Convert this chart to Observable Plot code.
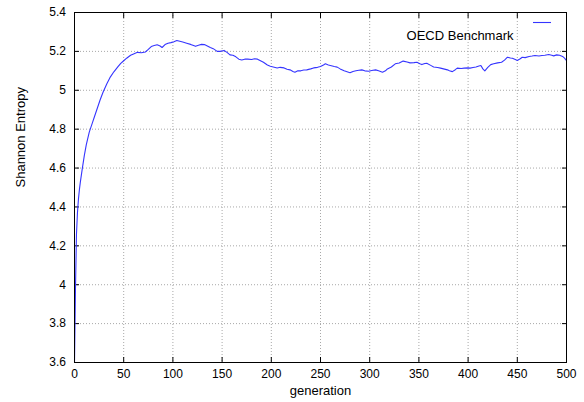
<!DOCTYPE html>
<html>
<head>
<meta charset="utf-8">
<script src="https://cdn.jsdelivr.net/npm/d3@7"></script>
<script src="https://cdn.jsdelivr.net/npm/@observablehq/plot@0.6"></script>
<style>
  body { margin: 0; background: #fff; }
  #chart { position: relative; width: 584px; height: 402px; }
</style>
</head>
<body>
<div id="chart"></div>
<script>
// Shannon entropy of the population per generation (OECD benchmark run)
const generation = [
  0, 1, 2, 3, 4, 5, 6, 8, 10, 12, 15, 18, 20, 23, 26, 29, 33, 36, 40, 44,
  47, 50, 53, 57, 60, 64, 68, 72, 75, 78, 81, 84, 87, 89, 92, 95, 98, 101, 104, 107,
  110, 114, 118, 121, 123, 126, 129, 132, 135, 138, 141, 145, 148, 152, 155, 158, 161, 164, 167, 170,
  173, 176, 180, 183, 186, 189, 192, 196, 199, 202, 206, 209, 213, 216, 219, 222, 224, 227, 230, 233,
  236, 240, 243, 247, 250, 253, 255, 258, 261, 264, 267, 270, 274, 277, 280, 283, 286, 289, 292, 295,
  299, 302, 306, 309, 313, 316, 318, 322, 326, 330, 334, 338, 341, 345, 348, 351, 353, 356, 358, 362,
  365, 369, 372, 375, 379, 381, 384, 387, 389, 393, 396, 400, 402, 405, 408, 411, 413, 415, 417, 420,
  423, 426, 430, 434, 437, 440, 443, 445, 448, 450, 453, 455, 458, 462, 465, 468, 472, 475, 478, 482,
  485, 487, 490, 493, 496, 498, 500
];
const entropy = [
  3.60, 3.98, 4.26, 4.37, 4.44, 4.49, 4.53, 4.60, 4.665, 4.72, 4.785, 4.83, 4.86, 4.905, 4.95, 4.99, 5.035, 5.065, 5.095, 5.12,
  5.138, 5.152, 5.165, 5.18, 5.187, 5.195, 5.193, 5.197, 5.21, 5.225, 5.23, 5.234, 5.228, 5.22, 5.235, 5.242, 5.245, 5.25, 5.256, 5.252,
  5.248, 5.242, 5.236, 5.23, 5.226, 5.232, 5.236, 5.235, 5.228, 5.22, 5.214, 5.2, 5.2, 5.205, 5.195, 5.182, 5.18, 5.172, 5.16, 5.156,
  5.16, 5.16, 5.158, 5.162, 5.16, 5.152, 5.144, 5.13, 5.124, 5.12, 5.115, 5.118, 5.115, 5.108, 5.105, 5.097, 5.093, 5.1, 5.1, 5.104,
  5.105, 5.11, 5.115, 5.118, 5.122, 5.13, 5.136, 5.13, 5.126, 5.122, 5.119, 5.11, 5.1, 5.095, 5.09, 5.097, 5.1, 5.103, 5.105, 5.1,
  5.098, 5.102, 5.105, 5.1, 5.093, 5.1, 5.11, 5.12, 5.136, 5.14, 5.15, 5.145, 5.141, 5.142, 5.144, 5.136, 5.132, 5.138, 5.139, 5.128,
  5.12, 5.117, 5.114, 5.11, 5.105, 5.1, 5.096, 5.106, 5.114, 5.112, 5.114, 5.115, 5.114, 5.117, 5.12, 5.125, 5.127, 5.11, 5.1, 5.118,
  5.132, 5.136, 5.141, 5.144, 5.155, 5.17, 5.166, 5.165, 5.158, 5.153, 5.162, 5.17, 5.168, 5.174, 5.176, 5.179, 5.176, 5.179, 5.18, 5.184,
  5.18, 5.177, 5.182, 5.18, 5.174, 5.165, 5.153
];
const xTicks = [0, 50, 100, 150, 200, 250, 300, 350, 400, 450, 500];
const yTicks = [3.6, 3.8, 4.0, 4.2, 4.4, 4.6, 4.8, 5.0, 5.2, 5.4];
const seriesName = "OECD Benchmark";
const xLabel = "generation";
const yLabel = "Shannon Entropy";

const data = generation.map((g, i) => ({generation: g, entropy: entropy[i]}));
const fmtY = d => String(+d.toFixed(1));
const font = "'Liberation Sans', Arial, Helvetica, sans-serif";
const lineColor = "#3535ff";
const gridStyle = {stroke: "#a8a8a8", strokeOpacity: 1, strokeWidth: 1, strokeDasharray: "1,2"};

const plot = Plot.plot({
  width: 584,
  height: 402,
  marginLeft: 74,
  marginRight: 18,
  marginTop: 12,
  marginBottom: 40,
  style: {fontFamily: font, fontSize: "12px", background: "#fff", color: "#000"},
  x: {domain: [0, 500]},
  y: {domain: [3.6, 5.4]},
  marks: [
    Plot.gridX(xTicks, gridStyle),
    Plot.gridY(yTicks, gridStyle),
    // inward ticks on all four sides, labels on bottom and left only
    Plot.axisX(xTicks, {anchor: "bottom", tickSize: -5, tickPadding: 12, label: null, fontSize: 12}),
    Plot.axisX(xTicks, {anchor: "top", tickSize: -5, tickFormat: () => "", label: null}),
    Plot.axisY(yTicks, {anchor: "left", tickSize: -5, tickPadding: 13.5, tickFormat: fmtY, label: null, fontSize: 12}),
    Plot.axisY(yTicks, {anchor: "right", tickSize: -5, tickFormat: () => "", label: null}),
    Plot.line(data, {x: "generation", y: "entropy", stroke: lineColor, strokeWidth: 1.1}),
    Plot.frame({stroke: "#000", strokeWidth: 1}),
    Plot.text([xLabel], {frameAnchor: "bottom", dy: 32.5, fontSize: 13}),
    Plot.text([yLabel], {frameAnchor: "left", dx: -54, rotate: -90, fontSize: 13}),
    Plot.text([seriesName], {frameAnchor: "top-right", dx: -53, dy: 18, textAnchor: "end", fontSize: 13})
  ]
});

// legend sample line next to the series name
const [, xRight] = plot.scale("x").range;
const yTop = Math.min(...plot.scale("y").range);
d3.select(plot).append("line")
  .attr("x1", xRight - 33).attr("x2", xRight - 15)
  .attr("y1", yTop + 10.5).attr("y2", yTop + 10.5)
  .attr("stroke", lineColor).attr("stroke-width", 1.1);

document.getElementById("chart").append(plot);
</script>
</body>
</html>
